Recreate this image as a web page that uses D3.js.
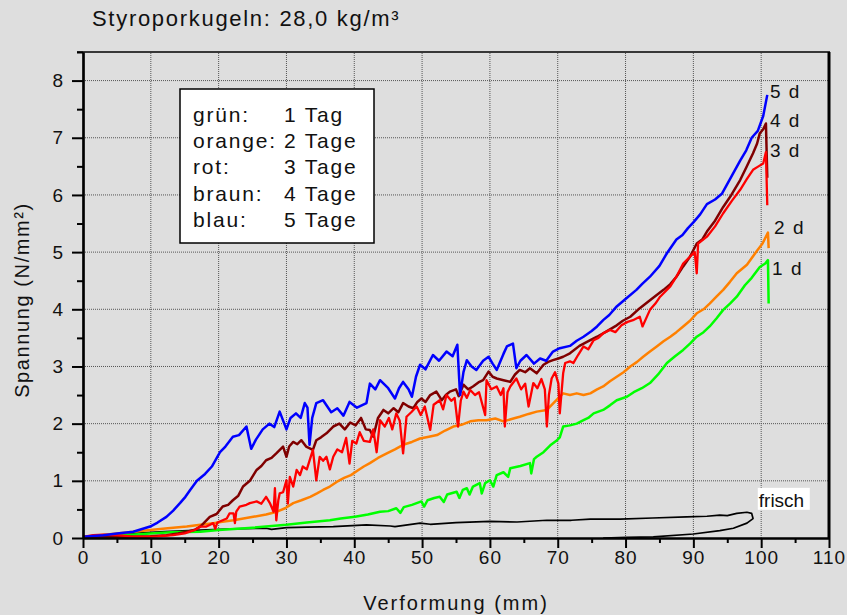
<!DOCTYPE html>
<html>
<head>
<meta charset="utf-8">
<script src="https://cdn.jsdelivr.net/npm/d3@7"></script>
<style>
  html, body { margin: 0; padding: 0; background: #dedede; }
  svg { display: block; font-family: "Liberation Sans", Arial, sans-serif; }
  .grid line { stroke: #555; stroke-width: 1; stroke-dasharray: 1,1; }
  .axis path, .axis line { stroke: #000; }
  .axis text { font-size: 19px; fill: #111; letter-spacing: 1px; }
</style>
</head>
<body>
<div id="chart"></div>
<script>
// Styroporkugeln 28,0 kg/m³ – stress/strain curves after n days
const xTicks = d3.range(0, 111, 10);
const xMinor = d3.range(5, 110, 10);
const yTicks = d3.range(0, 9, 1);
const yMinor = d3.range(0.5, 9, 1);

const legendRows = [
    ["grün:", "1 Tag"],
    ["orange:", "2 Tage"],
    ["rot:", "3 Tage"],
    ["braun:", "4 Tage"],
    ["blau:", "5 Tage"]
];

// [Verformung mm, Spannung N/mm²]
const frisch = [[0,0],[3,0.04],[7.4,0.08],[12,0.11],[17.3,0.14],[22,0.16],[27,0.17],[27.8,0.15],[30,0.18],[33,0.19],[36.9,0.2],[41.8,0.23],[45.3,0.21],[46,0.2],[49.7,0.26],[51.2,0.24],[55,0.27],[60,0.29],[64,0.28],[68.4,0.31],[72,0.31],[74.8,0.33],[79.2,0.33],[84,0.35],[89,0.37],[92,0.38],[93.9,0.4],[95,0.39],[96.4,0.43],[97.9,0.45],[98.6,0.43],[98.8,0.34],[97.9,0.26],[95.9,0.17],[93.9,0.13],[90,0.07],[84.1,0.02],[80.2,0.01],[76.7,0]];

const gruen1 = [[0,0.01],[3,0.03],[6,0.05],[9.9,0.08],[13,0.1],[17.3,0.11],[20,0.14],[25,0.18],[30,0.23],[33,0.27],[36.4,0.31],[38,0.34],[40.1,0.37],[42,0.41],[43.8,0.46],[45,0.47],[46.2,0.52],[46.8,0.44],[47.3,0.54],[48.5,0.58],[49.9,0.64],[50.3,0.55],[50.8,0.66],[51.8,0.7],[52.6,0.72],[53.2,0.63],[53.7,0.76],[55.1,0.81],[55.5,0.7],[56,0.84],[56.6,0.87],[57,0.76],[57.5,0.9],[58.5,0.96],[58.8,0.78],[59.3,0.96],[60,1.01],[60.5,0.9],[61,1.1],[62,1.15],[62.7,1.07],[63,1.22],[64.5,1.26],[65.9,1.31],[66.1,1.13],[66.5,1.38],[66.9,1.42],[67.9,1.5],[68.9,1.62],[69.8,1.7],[70.3,1.76],[70.8,1.95],[71.8,1.97],[72.8,2.0],[73.8,2.06],[74.5,2.1],[75.3,2.18],[76.7,2.24],[77.7,2.32],[78.7,2.41],[80.2,2.47],[81.2,2.55],[82.4,2.62],[83.6,2.71],[84.8,2.86],[86.1,3.06],[87.3,3.18],[88.5,3.29],[89.5,3.4],[90.5,3.52],[91.5,3.6],[92.4,3.7],[93.4,3.84],[94.4,3.99],[95.4,4.1],[96.4,4.22],[97.6,4.42],[98.6,4.55],[99.8,4.74],[100.6,4.8],[101,4.86],[101.1,4.1]];

const orange2 = [[0,0.02],[2.5,0.05],[5,0.08],[7.5,0.11],[9.9,0.14],[12.5,0.17],[15.3,0.2],[17.3,0.23],[19.2,0.26],[22.2,0.31],[25.1,0.37],[27,0.41],[28.6,0.46],[29.8,0.52],[31,0.61],[32.2,0.66],[33.5,0.72],[34.5,0.78],[35.4,0.84],[36.4,0.9],[37.4,0.98],[38.5,1.05],[39.5,1.1],[40.5,1.18],[41.4,1.25],[42.3,1.31],[43.5,1.4],[44.8,1.48],[46,1.55],[47.2,1.63],[48.5,1.68],[49.7,1.74],[51,1.77],[52.2,1.8],[53.4,1.88],[54.6,1.95],[55.8,1.98],[57.1,2.04],[58.3,2.06],[59.5,2.06],[60.8,2.09],[62,2.04],[63.2,2.08],[64.4,2.12],[65.7,2.17],[66.9,2.21],[68.4,2.24],[69.8,2.41],[70.8,2.53],[71.8,2.5],[72.8,2.53],[73.8,2.5],[74.8,2.53],[75.8,2.6],[76.7,2.65],[77.7,2.74],[78.7,2.82],[79.7,2.9],[80.7,3.0],[81.7,3.08],[82.6,3.17],[83.6,3.26],[84.6,3.35],[85.6,3.44],[86.6,3.52],[87.5,3.6],[88.5,3.7],[89.5,3.8],[90.5,3.93],[91.5,4.0],[92.4,4.1],[93.4,4.22],[94.4,4.34],[95.4,4.48],[96.4,4.63],[97.9,4.78],[99.3,5.01],[100.2,5.15],[101,5.34],[101.1,5.07]];

const rot3 = [[0,0.02],[1.5,0.05],[3,0.06],[5,0.05],[7,0.03],[9,0.02],[11,0.03],[13.3,0.05],[15,0.08],[16.5,0.14],[17.3,0.2],[18.2,0.2],[19.2,0.26],[19.5,0.16],[19.8,0.27],[20.6,0.31],[21.2,0.34],[21.6,0.43],[22.2,0.43],[22.4,0.26],[22.6,0.46],[23.1,0.55],[24.1,0.58],[24.6,0.61],[25.6,0.64],[26.3,0.6],[27,0.72],[27.6,0.6],[28.1,0.46],[28.3,0.87],[28.5,0.31],[28.8,0.66],[29,0.78],[29.5,0.8],[30,1.01],[30.2,0.6],[30.5,1.07],[31,0.9],[31.5,1.19],[32,1.1],[32.4,1.25],[33,1.2],[33.9,1.54],[34.4,1.01],[34.9,1.42],[35.4,1.35],[35.9,1.42],[36.4,1.2],[36.9,1.42],[37.5,1.55],[38.2,1.5],[38.8,1.75],[39.3,1.3],[39.7,1.7],[40.3,1.65],[40.8,1.85],[41.4,1.7],[42.3,1.68],[42.8,1.9],[43.3,1.5],[43.8,2.06],[44.5,1.95],[45.1,2.1],[45.6,1.9],[46.2,2.18],[46.7,2.05],[47.2,1.48],[47.7,2.12],[48.4,2.2],[49.2,2.3],[49.8,2.15],[50.4,2.3],[51.2,1.89],[51.7,2.33],[52.6,2.41],[53.1,2.25],[53.6,2.5],[54.3,2.4],[54.8,2.45],[55.3,1.95],[55.7,2.4],[56.1,2.56],[56.6,2.45],[57.1,2.59],[57.8,2.5],[58.4,2.55],[59.3,2.15],[59.5,2.76],[60.2,2.6],[61,2.65],[61.6,2.5],[62,2.62],[62.2,1.95],[62.6,2.55],[63,2.65],[63.9,2.79],[64.6,2.6],[65.2,2.7],[65.7,2.3],[66.4,2.71],[67,2.62],[67.6,2.78],[68.1,2.6],[68.4,1.95],[68.7,2.5],[69.1,2.79],[69.6,2.9],[70.1,2.7],[70.3,2.18],[70.8,2.88],[71.1,3.06],[71.8,3.09],[72.3,3.06],[73,3.2],[73.8,3.35],[74.5,3.3],[75.3,3.46],[76,3.5],[76.7,3.58],[77.7,3.64],[78.5,3.6],[79.4,3.72],[80.3,3.78],[81.1,3.81],[82.1,3.87],[82.5,3.7],[83.6,3.99],[84.4,4.1],[85.1,4.22],[86.6,4.4],[87.5,4.57],[88.5,4.8],[89.5,4.92],[90.2,5.0],[90.5,4.63],[90.7,5.15],[92,5.27],[93.2,5.45],[94.4,5.68],[95.7,5.9],[96.9,6.09],[97.9,6.28],[98.8,6.44],[99.6,6.5],[100.3,6.55],[100.7,6.75],[100.9,5.82]];

const braun4 = [[0,0.01],[4,0.02],[7.4,0.02],[10,0.03],[12.3,0.05],[14,0.08],[15.3,0.11],[16.4,0.14],[17.3,0.2],[18.7,0.37],[19.7,0.42],[20.6,0.55],[21.4,0.58],[22.1,0.66],[22.9,0.74],[23.6,0.9],[24.6,1.0],[25.6,1.19],[26.3,1.26],[27,1.36],[27.8,1.4],[28.5,1.48],[29.5,1.6],[30,1.42],[30.4,1.6],[31,1.68],[31.6,1.64],[32.2,1.71],[32.9,1.6],[33.9,1.54],[34.4,1.71],[35.1,1.76],[35.9,1.83],[36.9,1.95],[37.8,2.0],[38.6,1.9],[39.4,2.02],[40.2,1.97],[41,2.1],[41.7,1.9],[42.3,1.89],[42.8,1.77],[43.5,2.1],[44.3,2.24],[45,2.18],[45.8,2.27],[46.5,2.2],[47.2,2.36],[48,2.3],[48.7,2.27],[49.3,2.38],[49.9,2.44],[50.5,2.38],[51.2,2.5],[52.1,2.56],[52.9,2.41],[53.5,2.5],[54.1,2.56],[55,2.6],[55.4,2.48],[56.1,2.68],[56.8,2.6],[57.5,2.65],[58.3,2.72],[59,2.76],[59.8,2.91],[60.4,2.82],[61,2.79],[62,2.76],[63,2.73],[63.7,2.86],[64.4,2.94],[65.2,2.9],[65.9,2.97],[66.9,2.88],[67.9,3.03],[68.6,3.08],[69.3,3.11],[70.1,3.14],[70.8,3.17],[71.8,3.23],[73.2,3.36],[74.8,3.46],[75.8,3.52],[76.7,3.58],[77.7,3.65],[78.7,3.72],[79.6,3.8],[80.7,3.87],[82.1,4.02],[83.6,4.16],[84.6,4.25],[85.6,4.34],[86.6,4.44],[87.5,4.57],[88.5,4.75],[89.5,4.92],[90.5,5.15],[91.3,5.22],[92,5.36],[93.2,5.55],[94.4,5.79],[95.6,6.0],[96.9,6.26],[97.8,6.48],[98.8,6.73],[99.4,6.9],[99.8,7.08],[100.3,7.15],[100.7,7.25],[100.9,6.3]];

const blau5 = [[0,0.02],[3,0.05],[5,0.08],[7.4,0.11],[9.9,0.2],[11,0.27],[12.3,0.37],[13.3,0.48],[14.3,0.61],[15.1,0.72],[15.8,0.84],[16.8,1.0],[18,1.12],[19,1.25],[20.2,1.5],[21,1.6],[22.1,1.77],[23,1.8],[24.1,1.95],[24.8,1.56],[25.5,1.72],[26.5,1.9],[27.5,2.0],[28.2,1.94],[29,2.21],[30,1.9],[30.6,2.1],[31.4,2.18],[32.1,2.1],[32.7,2.36],[33.1,2.28],[33.4,1.63],[33.8,2.1],[34.4,2.36],[35.4,2.41],[36.6,2.2],[37.5,2.27],[38.4,2.14],[39.3,2.38],[40.4,2.28],[41.8,2.36],[42.3,2.7],[43.1,2.6],[43.8,2.76],[45,2.62],[46,2.44],[46.6,2.62],[47.2,2.73],[48,2.6],[48.5,2.47],[49.1,2.82],[49.7,3.03],[50.5,2.95],[51.6,3.2],[52.5,3.1],[53.6,3.26],[54.5,3.18],[55.2,3.38],[55.6,2.5],[56.1,2.9],[56.6,3.11],[57.3,3.0],[58,2.94],[59,3.1],[59.8,3.17],[60.4,3.05],[61,2.94],[62,3.22],[62.5,3.35],[63.4,3.4],[63.9,2.97],[64.5,3.1],[65.4,3.2],[66.5,3.05],[67.4,3.14],[68.3,3.1],[69.3,3.26],[70.3,3.32],[71.8,3.36],[72.8,3.45],[73.8,3.52],[75,3.62],[75.8,3.7],[76.7,3.81],[77.6,3.9],[78.7,4.05],[80,4.18],[81.6,4.34],[82.5,4.45],[83.6,4.57],[85,4.76],[86.1,4.98],[87.5,5.22],[88.4,5.3],[89.2,5.42],[90,5.52],[91,5.66],[92,5.84],[93.2,5.92],[94.2,6.02],[95.5,6.3],[96.9,6.6],[97.8,6.78],[98.6,7.0],[99.5,7.12],[100.3,7.38],[100.9,7.75]];

const seriesList = [
    { name: "frisch", values: frisch, color: "#000000", width: 1.7 },
    { name: "1 d", values: gruen1, color: "#00ff00", width: 2.5 },
    { name: "2 d", values: orange2, color: "#ff8000", width: 2.5 },
    { name: "4 d", values: braun4, color: "#800000", width: 2.5 },
    { name: "3 d", values: rot3, color: "#ff0000", width: 2.3 },
    { name: "5 d", values: blau5, color: "#0000ff", width: 2.5 }
];

// end labels [x, y] in data units
const endLabels = [
    { text: "5 d", x: 101.3, y: 7.7 },
    { text: "4 d", x: 101.3, y: 7.18 },
    { text: "3 d", x: 101.3, y: 6.67 },
    { text: "2 d", x: 101.9, y: 5.31 },
    { text: "1 d", x: 101.6, y: 4.6 }
];

const width = 847;
const height = 615;
const margin = { top: 52, right: 18, bottom: 77, left: 83 };

const x = d3.scaleLinear().domain([0, 110]).range([margin.left, width - margin.right]);
const y = d3.scaleLinear().domain([0, 8.5]).range([height - margin.bottom, margin.top]);

const svg = d3.select("#chart").append("svg")
    .attr("width", width)
    .attr("height", height);

svg.append("rect").attr("width", width).attr("height", height).attr("fill", "#dedede");

// grid
const grid = svg.append("g").attr("class", "grid");
grid.selectAll(".vx").data(xTicks.filter(d => d > 0 && d < 110)).join("line")
    .attr("x1", d => x(d)).attr("x2", d => x(d))
    .attr("y1", y(0)).attr("y2", y(8.5));
grid.selectAll(".hy").data(yTicks.filter(d => d > 0)).join("line")
    .attr("x1", x(0)).attr("x2", x(110))
    .attr("y1", d => y(d)).attr("y2", d => y(d));

// frame top / right
svg.append("line").attr("x1", x(0) - 6).attr("x2", x(110) + 1)
    .attr("y1", y(8.5)).attr("y2", y(8.5)).attr("stroke", "#000").attr("stroke-width", 1.6);
svg.append("line").attr("x1", x(110)).attr("x2", x(110))
    .attr("y1", y(8.5)).attr("y2", y(0)).attr("stroke", "#000").attr("stroke-width", 3);

// curves
const line = d3.line().x(d => x(d[0])).y(d => y(d[1]));
svg.append("g").selectAll("path").data(seriesList).join("path")
    .attr("d", d => line(d.values))
    .attr("fill", "none")
    .attr("stroke", d => d.color)
    .attr("stroke-width", d => d.width)
    .attr("stroke-linejoin", "round");

// axes
svg.append("g").attr("class", "axis")
    .attr("transform", `translate(0,${y(0)})`)
    .call(d3.axisBottom(x).tickValues(xTicks).tickSize(10).tickPadding(3).tickSizeOuter(0));
svg.append("g").attr("class", "axis")
    .attr("transform", `translate(0,${y(0)})`)
    .call(d3.axisBottom(x).tickValues(xMinor).tickSize(5).tickFormat("").tickSizeOuter(0));
svg.append("g").attr("class", "axis")
    .attr("transform", `translate(${x(0)},0)`)
    .call(d3.axisLeft(y).tickValues(yTicks).tickSize(11).tickPadding(8).tickSizeOuter(0));
svg.append("g").attr("class", "axis")
    .attr("transform", `translate(${x(0)},0)`)
    .call(d3.axisLeft(y).tickValues(yMinor).tickSize(6).tickFormat("").tickSizeOuter(0));
svg.selectAll(".axis path.domain").attr("stroke-width", 2.2);
svg.selectAll(".axis .tick line").attr("stroke-width", 2);

// titles
svg.append("text")
    .attr("x", 92).attr("y", 26)
    .attr("font-size", 22).attr("letter-spacing", 1.7).attr("fill", "#111")
    .text("Styroporkugeln: 28,0 kg/m³");

svg.append("text")
    .attr("x", (x(0) + x(110)) / 2).attr("y", 610)
    .attr("text-anchor", "middle")
    .attr("font-size", 20).attr("letter-spacing", 2).attr("fill", "#111")
    .text("Verformung (mm)");

svg.append("text")
    .attr("transform", `translate(29,${(y(0) + y(8.5)) / 2 + 5}) rotate(-90)`)
    .attr("text-anchor", "middle")
    .attr("font-size", 20).attr("letter-spacing", 1.6).attr("fill", "#111")
    .text("Spannung (N/mm²)");

// legend box
const legend = svg.append("g");
legend.append("rect")
    .attr("x", 180).attr("y", 89).attr("width", 194).attr("height", 154)
    .attr("fill", "#fff").attr("stroke", "#000").attr("stroke-width", 1.5);
const rowsG = legend.selectAll("g").data(legendRows).join("g")
    .attr("transform", (_, i) => `translate(0,${122 + i * 26.2})`);
rowsG.append("text").attr("x", 193).attr("font-size", 21).attr("letter-spacing", 1.8).attr("fill", "#111")
    .text(d => d[0]);
rowsG.append("text").attr("x", 284).attr("font-size", 21).attr("letter-spacing", 1.8).attr("fill", "#111")
    .text(d => d[1]);

// end labels
svg.append("g").selectAll("text").data(endLabels).join("text")
    .attr("x", d => x(d.x)).attr("y", d => y(d.y))
    .attr("font-size", 19).attr("letter-spacing", 1.5).attr("fill", "#111")
    .text(d => d.text);

// frisch label with white box
const fr = svg.append("g").attr("transform", `translate(${x(99.5)},${y(0.58)})`);
fr.append("rect").attr("x", 0).attr("y", -17).attr("width", 52).attr("height", 22).attr("fill", "#fff");
fr.append("text").attr("x", 1).attr("y", 2).attr("font-size", 19).attr("fill", "#111").text("frisch");
</script>
</body>
</html>
